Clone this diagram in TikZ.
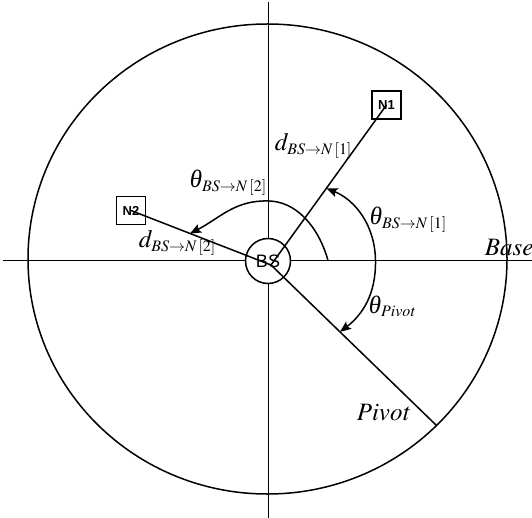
\documentclass[tikz,border=0pt]{standalone}
\usepackage{mathptmx}
\usepackage{fontspec}
\newfontfamily\sansf{Liberation Sans}
\newfontfamily\seriff{Liberation Serif}
\usetikzlibrary{arrows.meta}
\DeclareMathSizes{25}{25}{16}{12}
\newcommand{\thet}{{\seriff\itshape θ}}
\begin{document}
\begin{tikzpicture}[x=1pt,y=-1pt, line width=1.5pt,
  lbl/.style={inner sep=0pt, anchor=base west, font=\fontsize{25}{30}\selectfont},
  nodebox/.style={draw, line width=1.4pt, minimum width=29pt, minimum height=28pt, inner sep=0pt, font=\sansf\bfseries\fontsize{13}{15}\selectfont},
  arrowtip/.style={-{Stealth[length=11pt,width=9pt,inset=2pt]}},
  bothtips/.style={{Stealth[length=11pt,width=9pt,inset=2pt]}-{Stealth[length=11pt,width=9pt,inset=2pt]}}]
\fill[white] (0,0) rectangle (532,518);
\useasboundingbox (0,0) rectangle (532,518);
% outer range circle and axes
\draw (267.5,259) ellipse [x radius=239.5, y radius=235];
\draw (3,260.5) -- (532,260.5);
\draw (268.5,2) -- (268.5,518);
% base station
\node[circle, draw, fill=white, minimum size=45pt, inner sep=0pt, font=\sansf\fontsize{18}{20}\selectfont] (BS) at (268,261) {BS};
\coordinate (hub) at (271,265);
% sensor nodes
\node[nodebox] (N1) at (386.5,105) {N1};
\node[nodebox] (N2) at (131,210.5) {N2};
\coordinate (pe) at (436,425);
\draw (N1.center) -- (hub);
\draw (N2.center) -- (hub);
\draw (hub) -- (pe);
% angle arcs
\coordinate (a1) at (326.5,188.3);
\coordinate (a0) at (375.5,260.5);
\coordinate (a2) at (340,331.9);
\draw[bothtips] (a1) .. controls (355,200) and (375,225) .. (a0) .. controls (376,295) and (362,315) .. (a2);
\coordinate (b0) at (328,260.5);
\coordinate (b1) at (190,233.5);
\draw[arrowtip] (b0) .. controls (318,225) and (295,201) .. (268,201) .. controls (235,200) and (220,218) .. (b1);
% labels
\node[lbl] (t1) at (369,224.5) {\thet$_{BS\rightarrow N\,[1]}$};
\node[lbl] (t2) at (189,188) {\thet$_{BS\rightarrow N\,[2]}$};
\node[lbl] (d1) at (274,151) {$d_{BS\rightarrow N\,[1]}$};
\node[lbl] (d2) at (138,248) {$d_{BS\rightarrow N\,[2]}$};
\node[lbl] (tp) at (368,313) {\thet$_{\mathit{Pivot}}$};
\node[lbl] (pv) at (356,420) {$\mathit{Pivot}$};
\node[lbl] (bs) at (484,256) {$\mathit{Base}$};
\end{tikzpicture}
\end{document}
